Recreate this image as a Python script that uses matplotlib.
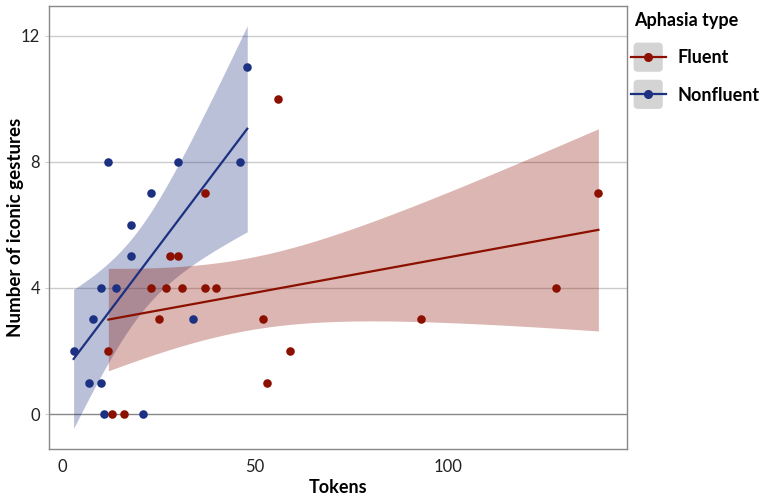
import numpy as np
import matplotlib
matplotlib.use("Agg")
import matplotlib.pyplot as plt
from matplotlib.lines import Line2D
from matplotlib.patches import FancyBboxPatch
from matplotlib.legend_handler import HandlerBase

plt.rcParams['font.family'] = ['Lato', 'DejaVu Sans']

# ---- data ----
fluent_tokens = [56, 37, 28, 30, 23, 27, 31, 37, 40, 25, 52, 12, 59, 53, 13, 16, 93, 128, 139]
fluent_iconic = [10, 7, 5, 5, 4, 4, 4, 4, 4, 3, 3, 2, 2, 1, 0, 0, 3, 4, 7]
nonfluent_tokens = [48, 12, 30, 46, 23, 18, 18, 10, 14, 8, 34, 3, 7, 10, 11, 21]
nonfluent_iconic = [11, 8, 8, 8, 7, 6, 5, 4, 4, 3, 3, 2, 1, 1, 0, 0]
groups = ["Fluent", "Nonfluent"]
x_ticks = [0, 50, 100]
y_ticks = [0, 4, 8, 12]

colors = {"Fluent": "#8B1000", "Nonfluent": "#1C3181"}


def t_quantile(p, df):
    # numeric inverse of Student t CDF
    from math import lgamma, pi, exp, log
    xs = np.linspace(0, 20, 200001)
    c = exp(lgamma((df + 1) / 2) - lgamma(df / 2) - 0.5 * log(df * pi))
    pdf = c * (1 + xs ** 2 / df) ** (-(df + 1) / 2)
    cdf = 0.5 + np.concatenate([[0], np.cumsum((pdf[1:] + pdf[:-1]) / 2 * np.diff(xs))])
    return float(np.interp(p, cdf, xs))


def lm_fit(x, y, n=200):
    x = np.asarray(x, float)
    y = np.asarray(y, float)
    N = len(x)
    X = np.column_stack([np.ones(N), x])
    beta, *_ = np.linalg.lstsq(X, y, rcond=None)
    resid = y - X @ beta
    s2 = resid @ resid / (N - 2)
    XtXi = np.linalg.inv(X.T @ X)
    xg = np.linspace(x.min(), x.max(), n)
    Xg = np.column_stack([np.ones(n), xg])
    yg = Xg @ beta
    se = np.sqrt(s2 * np.einsum('ij,jk,ik->i', Xg, XtXi, Xg))
    t = t_quantile(0.975, N - 2)
    return xg, yg, yg - t * se, yg + t * se


fig = plt.figure(figsize=(7.69, 4.99), dpi=100)
ax = fig.add_axes([0.0631, 0.1002, 0.8153 - 0.0631, 0.988 - 0.1002])

data = {"Fluent": (fluent_tokens, fluent_iconic),
        "Nonfluent": (nonfluent_tokens, nonfluent_iconic)}

for g in ["Nonfluent", "Fluent"]:
    xs, ys = data[g]
    xg, yg, lo, hi = lm_fit(xs, ys)
    ax.fill_between(xg, lo, hi, color=colors[g], alpha=0.3, lw=0, zorder=2)

for g in ["Nonfluent", "Fluent"]:
    xs, ys = data[g]
    xg, yg, lo, hi = lm_fit(xs, ys)
    ax.plot(xg, yg, color=colors[g], lw=1.6, zorder=3)
    ax.scatter(xs, ys, s=38, color=colors[g], zorder=4, linewidths=0)

ax.set_xlim(-3.5, 146.4)
ax.set_ylim(-1.11, 12.95)
ax.set_xticks(x_ticks)
ax.set_xticklabels([str(v) for v in x_ticks])
ax.set_yticks(y_ticks)
ax.set_yticklabels([str(v) for v in y_ticks])
for yv in y_ticks:
    ax.axhline(yv, color="#888888" if yv == 0 else "#cccccc", lw=1.0, zorder=1)
ax.tick_params(axis='x', length=0, labelsize=12, colors="#222222", pad=7)
ax.tick_params(axis='y', length=3, color="#cccccc", labelsize=12, labelcolor="#222222", pad=3)
for sp in ax.spines.values():
    sp.set_color("#888888")
    sp.set_linewidth(1.0)

ax.set_xlabel("Tokens", fontsize=13, fontweight="bold", labelpad=3)
ax.set_ylabel("Number of iconic gestures", fontsize=13.5, fontweight="bold")
ax.yaxis.set_label_coords(-0.043, 0.5)


class KeyHandler(HandlerBase):
    def create_artists(self, legend, orig_handle, xdescent, ydescent, width, height, fontsize, trans):
        c = orig_handle.get_color()
        sz = 21
        cx = width / 2 - xdescent
        cy = height / 2 - ydescent
        bg = FancyBboxPatch((cx - sz / 2, cy - sz / 2), sz, sz,
                            boxstyle="round,pad=0,rounding_size=3",
                            fc="#d4d4d4", ec="none", transform=trans)
        ln = Line2D([cx - sz / 2 - 2, cx + sz / 2 + 2], [cy, cy], color=c, lw=1.6, transform=trans)
        pt = Line2D([cx], [cy], marker='o', ms=5.5, color=c, lw=0, transform=trans)
        return [bg, ln, pt]


handles = [Line2D([], [], color=colors[g]) for g in groups]
leg = fig.legend(handles, groups, loc="upper left", bbox_to_anchor=(0.803, 1.008),
                 frameon=False, title="Aphasia type", handler_map={Line2D: KeyHandler()},
                 prop={"size": 13, "weight": "bold"}, handlelength=1.6, handleheight=1.0,
                 labelspacing=1.1, handletextpad=0.8, alignment="left")
leg.get_title().set_fontsize(13)
leg.get_title().set_fontweight("bold")

fig.savefig("out.png", dpi=100)
